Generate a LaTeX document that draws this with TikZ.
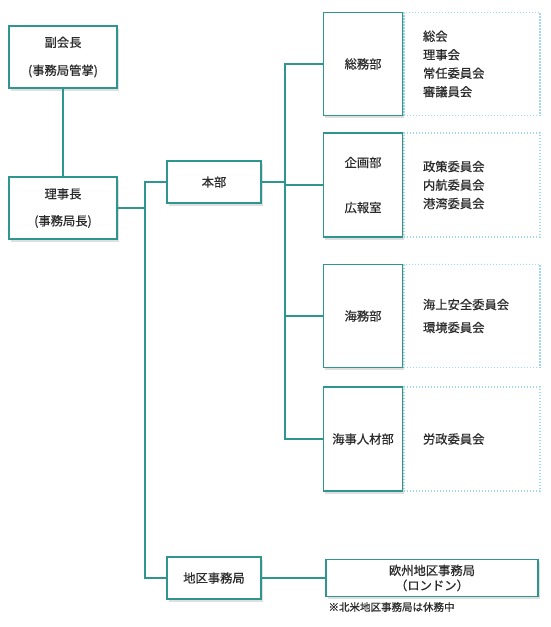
\documentclass[tikz,border=0pt]{standalone}
\usepackage{fontspec}
\setmainfont{Noto Sans CJK JP}[FakeBold=0.6]
\usetikzlibrary{positioning,shadows}
\definecolor{sen}{HTML}{2E958F}
\definecolor{tensen}{HTML}{9FD9E6}
\definecolor{moji}{HTML}{2B2B2B}
\tikzset{
	box/.style={draw=sen, line width=1.8pt, fill=white, text=moji, align=center, inner sep=2pt,
		font=\fontsize{12.3pt}{14pt}\selectfont,
		drop shadow={opacity=0.25, shadow xshift=1.5pt, shadow yshift=-2.5pt}},
	yaku/.style={box, minimum width=108pt, minimum height=62pt},
	bu/.style={box, minimum width=79pt, minimum height=103pt},
	kyoku/.style={box, minimum width=94pt, minimum height=42pt},
	iin/.style={draw=tensen, line width=1.1pt, dash pattern=on 1.1pt off 1.9pt, text=moji,
		align=left, text width=98pt, inner xsep=19pt, minimum height=103pt,
		font=\fontsize{12.3pt}{18.5pt}\selectfont},
	line/.style={sen, line width=1.7pt},
}
\begin{document}
\begin{tikzpicture}[x=1pt, y=-1pt, node distance=0pt]
	\useasboundingbox (0,0) rectangle (550,627);
	\node[yaku] at (63,57) (fukukaicho) {副会長\\[14pt](事務局管掌)};
	\node[yaku] at (63,208) (rijicho) {理事長\\[13pt](事務局長)};
	\node[kyoku] at (214,182) (honbu) {本部};
	\node[kyoku] at (214,578) (chiku) {地区事務局};
	\node[box, minimum width=212pt, minimum height=37pt] at (432,578) (oshu) {欧州地区事務局\\[1pt]（ロンドン）};
	\node[anchor=west, text=moji, font=\fontsize{10.5pt}{12pt}\selectfont] at (325,607) (kyumu) {※北米地区事務局は休務中};
	% iinkai
	\node[iin] at (472,64) (soumu-iin) {総会\\理事会\\常任委員会\\審議員会};
	\node[iin, minimum height=104pt] at (472,185) (kikaku-iin) {政策委員会\\内航委員会\\港湾委員会};
	\node[iin] at (472,316) (kaimu-iin) {海上安全委員会\\[4.5pt]環境委員会};
	\node[iin, minimum height=104pt] at (472,439) (kaiji-iin) {労政委員会};
	\node[bu, left=of soumu-iin] (soumu) {総務部};
	\node[bu, minimum height=104pt, left=of kikaku-iin] (kikaku) {企画部\\[31pt]広報室};
	\node[bu, left=of kaimu-iin] (kaimu) {海務部};
	\node[bu, minimum height=104pt, left=of kaiji-iin] (kaiji) {海事人材部};
	% sen
	\coordinate (j1) at (145,208);
	\coordinate (j2) at (285,182);
	\draw[line] (fukukaicho) -- (rijicho);
	\draw[line] (rijicho) -- (j1);
	\draw[line] (honbu.west) -| (j1) |- (chiku.west);
	\draw[line] (chiku) -- (oshu);
	\draw[line] (honbu) -- (j2);
	\foreach \to in {soumu,kikaku,kaimu,kaiji}
		\draw[line] (j2) |- (\to.west);
\end{tikzpicture}
\end{document}
